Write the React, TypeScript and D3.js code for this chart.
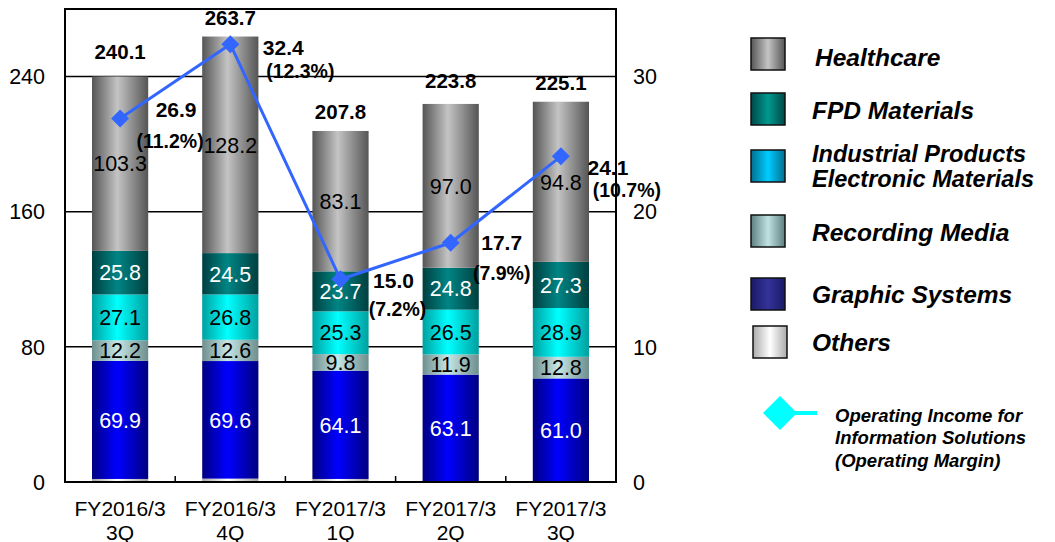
import React from "react";
import * as d3 from "d3";

const categories = ["FY2016/3|3Q", "FY2016/3|4Q", "FY2017/3|1Q", "FY2017/3|2Q", "FY2017/3|3Q"];
const others = [1.8, 2.0, 1.8, 0.5, 0.3];
const graphicSystems = [69.9, 69.6, 64.1, 63.1, 61.0];
const recordingMedia = [12.2, 12.6, 9.8, 11.9, 12.8];
const industrialProducts = [27.1, 26.8, 25.3, 26.5, 28.9];
const fpdMaterials = [25.8, 24.5, 23.7, 24.8, 27.3];
const healthcare = [103.3, 128.2, 83.1, 97.0, 94.8];
const totals = [240.1, 263.7, 207.8, 223.8, 225.1];
const operatingIncome = [26.9, 32.4, 15.0, 17.7, 24.1];
const operatingMargin = ["(11.2%)", "(12.3%)", "(7.2%)", "(7.9%)", "(10.7%)"];
const leftTicks = [0, 80, 160, 240];
const rightTicks = [0, 10, 20, 30];

// layout-only tweaks (label offsets in px)
const totalLift = [25, 19, 19, 23, 19];
const incomeLabelOffset = [[56, -9], [53, 3], [53, 1], [51, 0], [47, 11]];
const marginLabelOffset = [[50, 23], [70, 27], [57, 30], [51, 30], [66, 34]];

const series = [
  { key: "others", values: others, edge: "#a8a8a8", mid: "#ffffff", text: null },
  { key: "graphic", values: graphicSystems, edge: "#000080", mid: "#0000ff", text: "#ffffff" },
  { key: "recording", values: recordingMedia, edge: "#6f8f8f", mid: "#c6e6e6", text: "#000000" },
  { key: "industrial", values: industrialProducts, edge: "#00a0a0", mid: "#00ffff", text: "#000000" },
  { key: "fpd", values: fpdMaterials, edge: "#003f3f", mid: "#008585", text: "#ffffff" },
  { key: "health", values: healthcare, edge: "#555555", mid: "#c4c4c4", text: "#000000" },
];

const legendItems = [
  { lines: ["Healthcare"], y: 38, edge: "#555555", mid: "#c4c4c4", tx: 815 },
  { lines: ["FPD Materials"], y: 93, edge: "#004848", mid: "#00998f", tx: 812 },
  { lines: ["Industrial Products", "Electronic Materials"], y: 150, edge: "#006f90", mid: "#00ccff", tx: 812 },
  { lines: ["Recording Media"], y: 215, edge: "#5f7f7f", mid: "#c0e2e2", tx: 812 },
  { lines: ["Graphic Systems"], y: 278, edge: "#1a1a66", mid: "#333399", tx: 812 },
  { lines: ["Others"], y: 326, edge: "#aaaaaa", mid: "#ffffff", tx: 812 },
];

const W = 1055, H = 542;
const L = 65, R = 616, T = 9, B = 482;
const FONT = "'Liberation Sans', Arial, sans-serif";
const FS = 21.5;

export default function App() {
  const x = d3.scaleBand<string>().domain(categories).range([L, R]).paddingInner(0.49).paddingOuter(0.245);
  const yL = d3.scaleLinear().domain([0, 280]).range([B, T]);
  const yR = d3.scaleLinear().domain([0, 35]).range([B, T]);
  const step = x.step();
  const bw = x.bandwidth();

  const stackData = categories.map((c, i) => {
    const o: any = { cat: c };
    series.forEach((s) => (o[s.key] = s.values[i]));
    return o;
  });
  const stacked = d3.stack().keys(series.map((s) => s.key))(stackData as any);

  const linePts = operatingIncome.map((v, i) => [x(categories[i])! + bw / 2, yR(v)] as [number, number]);
  const linePath = d3.line()(linePts) || "";
  const diamond = (cx: number, cy: number, r: number) => `M${cx},${cy - r}L${cx + r},${cy}L${cx},${cy + r}L${cx - r},${cy}Z`;

  return (
    <svg width={W} height={H} style={{ position: "absolute", left: 0, top: 0, background: "#fff" }} fontFamily={FONT}>
      <defs>
        {series.map((s) => (
          <linearGradient key={s.key} id={`g-${s.key}`} x1="0" x2="1" y1="0" y2="0">
            <stop offset="0" stopColor={s.edge} />
            <stop offset="0.45" stopColor={s.mid} />
            <stop offset="1" stopColor={s.edge} />
          </linearGradient>
        ))}
        {legendItems.map((s, i) => (
          <linearGradient key={i} id={`lg-${i}`} x1="0" x2="1" y1="0" y2="0">
            <stop offset="0" stopColor={s.edge} />
            <stop offset="0.5" stopColor={s.mid} />
            <stop offset="1" stopColor={s.edge} />
          </linearGradient>
        ))}
      </defs>

      {/* gridlines */}
      {leftTicks.filter((t) => t > 0).map((t) => (
        <line key={t} x1={L} x2={R} y1={yL(t)} y2={yL(t)} stroke="#000" strokeWidth={1.5} />
      ))}

      {/* bars */}
      {stacked.map((layer, si) => (
        <g key={layer.key}>
          {layer.map((d, i) => (
            <rect key={i} x={x(categories[i])} width={bw} y={yL(d[1])} height={Math.max(0, yL(d[0]) - yL(d[1]))} fill={`url(#g-${series[si].key})`} />
          ))}
        </g>
      ))}

      {/* segment labels */}
      {stacked.map((layer, si) =>
        series[si].text
          ? layer.map((d, i) => (
              <text key={`${si}-${i}`} x={x(categories[i])! + bw / 2} y={(yL(d[0]) + yL(d[1])) / 2} dy="0.36em" textAnchor="middle" fontSize={FS} fill={series[si].text!}>
                {series[si].values[i].toFixed(1)}
              </text>
            ))
          : null
      )}

      {/* frame */}
      <rect x={L} y={T} width={R - L} height={B - T} fill="none" stroke="#000" strokeWidth={2} />
      {categories.slice(1).map((c, i) => (
        <line key={c + i} x1={L + step * (i + 1)} x2={L + step * (i + 1)} y1={B} y2={B - 6} stroke="#000" strokeWidth={1.5} />
      ))}

      {/* left axis labels */}
      {leftTicks.map((t) => (
        <text key={t} x={45} y={yL(t)} dy="0.36em" textAnchor="end" fontSize={FS}>{t}</text>
      ))}
      {/* right axis labels */}
      {rightTicks.map((t) => (
        <text key={t} x={633} y={yR(t)} dy="0.36em" textAnchor="start" fontSize={FS}>{t}</text>
      ))}

      {/* category labels */}
      {categories.map((c) => {
        const [a, b] = c.split("|");
        const cx = x(c)! + bw / 2;
        return (
          <g key={c}>
            <text x={cx} y={515.5} textAnchor="middle" fontSize={21}>{a}</text>
            <text x={cx} y={539.5} textAnchor="middle" fontSize={21}>{b}</text>
          </g>
        );
      })}

      {/* totals */}
      {totals.map((t, i) => (
        <text key={i} x={x(categories[i])! + bw / 2} y={yL(t) - totalLift[i]} dy="0.36em" textAnchor="middle" fontSize={20.5} fontWeight="bold">
          {t.toFixed(1)}
        </text>
      ))}

      {/* line */}
      <path d={linePath} fill="none" stroke="#3366ff" strokeWidth={3} />
      {linePts.map(([cx, cy], i) => (
        <path key={i} d={diamond(cx, cy, 9)} fill="#3366ff" />
      ))}
      {linePts.map(([cx, cy], i) => (
        <g key={i}>
          <text x={cx + incomeLabelOffset[i][0]} y={cy + incomeLabelOffset[i][1]} dy="0.36em" textAnchor="middle" fontSize={21} fontWeight="bold">
            {operatingIncome[i].toFixed(1)}
          </text>
          <text x={cx + marginLabelOffset[i][0]} y={cy + marginLabelOffset[i][1]} dy="0.36em" textAnchor="middle" fontSize={19.5} fontWeight="bold">
            {operatingMargin[i]}
          </text>
        </g>
      ))}

      {/* legend */}
      {legendItems.map((it, i) => (
        <g key={i}>
          <rect x={i === 5 ? 753 : 751} y={it.y} width={34} height={32} fill={`url(#lg-${i})`} stroke="#111" strokeWidth={1.5} />
          {it.lines.map((ln, j) => (
            <text key={j} x={it.tx} y={it.lines.length === 1 ? it.y + 17 + (i >= 4 ? -1 : 0) + (i === 0 ? 2 : 0) : it.y + 4 + j * 24.5} dy="0.36em" fontSize={it.lines.length > 1 ? 23.5 : 24.5} fontWeight="bold" fontStyle="italic">
              {ln}
            </text>
          ))}
        </g>
      ))}
      <line x1={780} x2={817} y1={413} y2={413} stroke="#00ffff" strokeWidth={4} />
      <path d={diamond(780, 413, 17)} fill="#00ffff" />
      {["Operating Income for", "Information Solutions", "(Operating Margin)"].map((t, j) => (
        <text key={j} x={835} y={415 + j * 22.5} dy="0.36em" fontSize={18.5} fontWeight="bold" fontStyle="italic">{t}</text>
      ))}
    </svg>
  );
}
